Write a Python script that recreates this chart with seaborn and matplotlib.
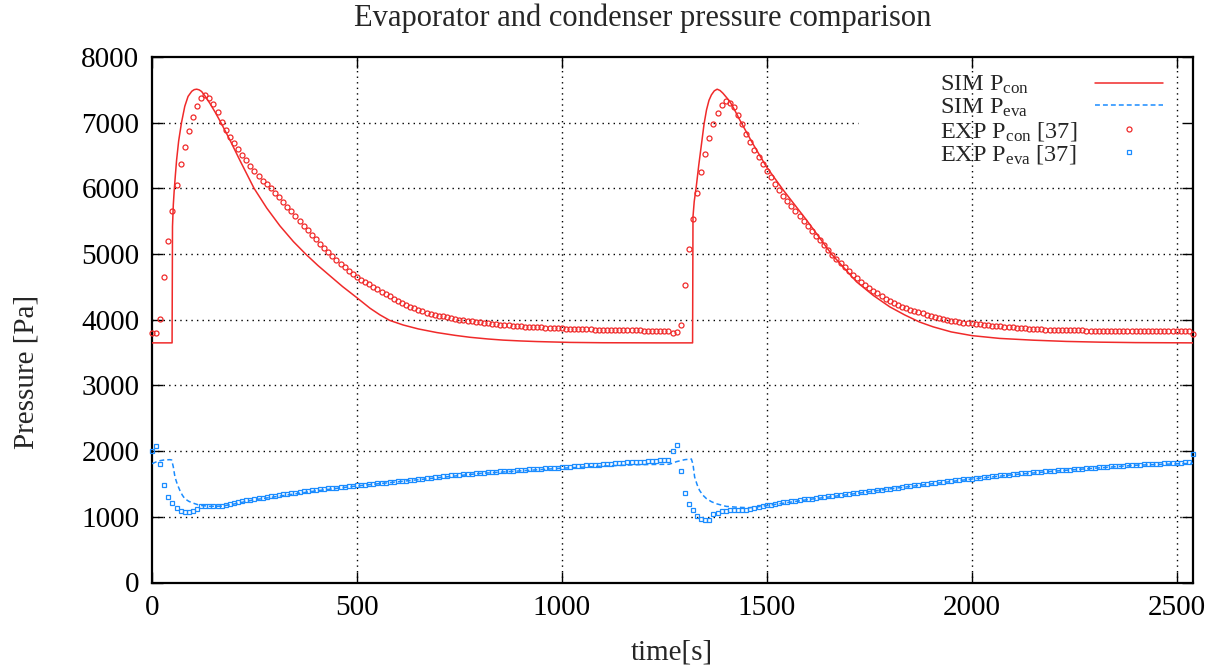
import matplotlib
matplotlib.use('Agg')
import matplotlib.pyplot as plt
import seaborn as sns
from matplotlib.lines import Line2D

# ---------------- data ----------------
TIME_EXP = list(range(0, 2550, 10))

EXP_PCON = [
    3791, 3800, 4009, 4649, 5198, 5655, 6047, 6367, 6631, 6875,   # 0
    7088, 7261, 7378, 7424, 7378, 7292, 7160, 7012, 6890, 6778,   # 100
    6687, 6596, 6509, 6428, 6341, 6260, 6189, 6118, 6062, 6001,   # 200
    5935, 5869, 5798, 5722, 5650, 5579, 5498, 5432, 5361, 5290,   # 300
    5224, 5158, 5091, 5030, 4970, 4908, 4852, 4797, 4746, 4690,   # 400
    4644, 4604, 4568, 4537, 4497, 4461, 4426, 4391, 4357, 4323,   # 500
    4290, 4258, 4228, 4200, 4175, 4152, 4130, 4110, 4092, 4077,   # 600
    4064, 4050, 4037, 4025, 4014, 4003, 3994, 3985, 3976, 3967,   # 700
    3960, 3952, 3945, 3938, 3931, 3925, 3918, 3913, 3908, 3904,   # 800
    3900, 3896, 3893, 3890, 3887, 3884, 3881, 3878, 3875, 3872,   # 900
    3869, 3866, 3862, 3860, 3858, 3856, 3854, 3852, 3850, 3848,   # 1000
    3846, 3845, 3844, 3843, 3842, 3841, 3840, 3839, 3838, 3837,   # 1100
    3836, 3835, 3834, 3833, 3832, 3831, 3830, 3801, 3816, 3913,   # 1200
    4533, 5076, 5534, 5930, 6245, 6519, 6763, 6982, 7154, 7276,   # 1300
    7327, 7307, 7236, 7119, 6977, 6829, 6702, 6580, 6474, 6372,   # 1400
    6270, 6174, 6072, 5976, 5889, 5808, 5732, 5655, 5574, 5508,   # 1500
    5432, 5356, 5279, 5208, 5137, 5061, 4990, 4924, 4858, 4802,   # 1600
    4741, 4685, 4629, 4573, 4522, 4482, 4441, 4400, 4360, 4319,   # 1700
    4284, 4253, 4228, 4197, 4177, 4156, 4136, 4116, 4097, 4078,   # 1800
    4058, 4040, 4024, 4010, 3997, 3985, 3975, 3966, 3958, 3951,   # 1900
    3944, 3937, 3930, 3923, 3916, 3910, 3904, 3898, 3893, 3888,   # 2000
    3883, 3878, 3873, 3868, 3863, 3858, 3855, 3853, 3851, 3849,   # 2100
    3847, 3845, 3843, 3841, 3840, 3839, 3838, 3837, 3836, 3835,   # 2200
    3834, 3833, 3833, 3832, 3832, 3831, 3831, 3830, 3830, 3830,   # 2300
    3829, 3829, 3829, 3829, 3828, 3828, 3828, 3828, 3827, 3827,   # 2400
    3827, 3827, 3826, 3826, 3790,                                 # 2500
]

EXP_PEVA = [
    1997, 2073, 1799, 1479, 1301, 1209, 1138, 1087, 1067, 1067,   # 0
    1087, 1113, 1159, 1159, 1159, 1164, 1164, 1169, 1174, 1194,   # 100
    1209, 1225, 1240, 1250, 1260, 1270, 1280, 1285, 1296, 1311,   # 200
    1316, 1331, 1341, 1347, 1357, 1367, 1377, 1387, 1392, 1402,   # 300
    1407, 1418, 1428, 1433, 1438, 1443, 1453, 1458, 1468, 1473,   # 400
    1479, 1484, 1490, 1496, 1502, 1508, 1514, 1520, 1526, 1532,   # 500
    1538, 1545, 1552, 1559, 1566, 1573, 1580, 1587, 1594, 1601,   # 600
    1608, 1616, 1624, 1631, 1638, 1644, 1649, 1654, 1659, 1664,   # 700
    1669, 1674, 1679, 1684, 1688, 1692, 1697, 1701, 1705, 1710,   # 800
    1714, 1718, 1722, 1726, 1730, 1734, 1738, 1742, 1746, 1750,   # 900
    1754, 1758, 1762, 1767, 1772, 1777, 1782, 1787, 1792, 1796,   # 1000
    1800, 1805, 1810, 1814, 1818, 1823, 1827, 1831, 1835, 1838,   # 1100
    1842, 1846, 1850, 1854, 1858, 1862, 1866, 1995, 2090, 1697,   # 1200
    1362, 1199, 1098, 1006, 960, 945, 950, 1041, 1062, 1082,      # 1300
    1092, 1098, 1098, 1098, 1103, 1108, 1118, 1133, 1148, 1164,   # 1400
    1174, 1184, 1199, 1209, 1220, 1230, 1240, 1245, 1255, 1265,   # 1500
    1270, 1275, 1280, 1301, 1306, 1311, 1316, 1326, 1334, 1342,   # 1600
    1350, 1358, 1366, 1374, 1382, 1390, 1398, 1406, 1414, 1422,   # 1700
    1430, 1438, 1446, 1454, 1462, 1470, 1478, 1486, 1494, 1501,   # 1800
    1508, 1516, 1524, 1532, 1540, 1548, 1555, 1562, 1569, 1576,   # 1900
    1583, 1590, 1597, 1604, 1611, 1618, 1625, 1631, 1637, 1643,   # 2000
    1649, 1655, 1661, 1667, 1673, 1679, 1684, 1689, 1694, 1698,   # 2100
    1702, 1706, 1710, 1714, 1718, 1722, 1727, 1732, 1737, 1742,   # 2200
    1747, 1752, 1757, 1762, 1766, 1770, 1775, 1779, 1783, 1787,   # 2300
    1791, 1794, 1797, 1800, 1803, 1806, 1809, 1812, 1815, 1818,   # 2400
    1821, 1824, 1827, 1830, 1962,                                 # 2500
]

SIM_CON_T = [0, 49, 50, 52, 54, 57, 60, 65, 72, 80, 88, 97, 103, 109, 115,
             121, 130, 141, 155, 168, 190, 215, 249, 280, 312, 345, 375,
             405, 434, 465, 499, 532, 556, 580, 613, 650, 695, 740, 776,
             820, 857, 900, 939, 1020, 1100, 1239, 1319,
             1320, 1323, 1328, 1334, 1341, 1347, 1353,
             1359, 1365, 1372, 1379, 1386, 1393, 1401, 1410, 1421, 1434,
             1466, 1499, 1540, 1597, 1658, 1719, 1760, 1800, 1837, 1873,
             1906, 1950, 2001, 2068, 2150, 2231, 2312, 2400, 2540]
SIM_CON_V = [3648, 3648, 5420, 5750, 5950, 6200, 6430, 6720, 7002, 7250,
             7400, 7478, 7503, 7510, 7500, 7475, 7400, 7297, 7150, 7002,
             6738, 6420, 6001, 5700, 5430, 5190, 5000, 4825, 4670, 4505,
             4340, 4175, 4075, 3990, 3920, 3860, 3805, 3762, 3733,
             3707, 3690, 3677, 3668, 3655, 3650, 3648, 3648,
             5569, 5800, 6027, 6350, 6687, 6980, 7195,
             7340, 7424, 7485, 7510, 7490, 7449, 7390, 7322, 7200, 7043,
             6680, 6331, 5976, 5518, 5000, 4578, 4370, 4197, 4072, 3965,
             3892, 3815, 3758, 3716, 3689, 3670, 3659, 3652, 3648]

SIM_EVA_T = [0, 10, 20, 30, 44, 48, 52, 56, 62, 68, 74, 80, 90, 100, 117,
             140, 170, 200, 250, 300, 400, 500, 650, 800, 1000, 1100, 1190,
             1262, 1280, 1300, 1316, 1320, 1324, 1330, 1336, 1344, 1353,
             1365, 1377, 1401, 1430, 1458, 1500, 1600, 1700, 1800, 1900,
             2000, 2100, 2200, 2300, 2400, 2540]
SIM_EVA_V = [1809, 1835, 1855, 1866, 1870, 1865, 1760, 1606, 1490, 1402,
             1330, 1276, 1235, 1209, 1174, 1160, 1162, 1195, 1260, 1305,
             1395, 1470, 1565, 1660, 1740, 1772, 1794, 1800, 1840, 1870,
             1880, 1800, 1606, 1490, 1402, 1330, 1276, 1230, 1199, 1159,
             1145, 1138, 1170, 1262, 1340, 1425, 1500, 1575, 1640, 1695,
             1740, 1785, 1815]

X_TICKS = [0, 500, 1000, 1500, 2000, 2500]
Y_TICKS = [0, 1000, 2000, 3000, 4000, 5000, 6000, 7000, 8000]

TITLE = 'Evaporator and condenser pressure comparison'
XLABEL = 'time[s]'
YLABEL = 'Pressure [Pa]'
LABELS = [r'SIM P$_{\mathrm{con}}$', r'SIM P$_{\mathrm{eva}}$',
          r'EXP P$_{\mathrm{con}}$ [37]', r'EXP P$_{\mathrm{eva}}$ [37]']

RED = '#f02a2a'
BLUE = '#1a8cff'
DASH = (0, (3.2, 2.0))

# ---------------- style ----------------
sns.set_style('ticks')
plt.rcParams['font.family'] = ['Liberation Serif', 'DejaVu Serif']
plt.rcParams['mathtext.fontset'] = 'custom'
plt.rcParams['mathtext.rm'] = 'Liberation Serif'
plt.rcParams['mathtext.it'] = 'Liberation Serif:italic'
plt.rcParams['mathtext.bf'] = 'Liberation Serif:bold'

W, H = 1219, 668
fig = plt.figure(figsize=(W / 100, H / 100), dpi=100)
L, R, T, B = 152, 1193, 57, 582.5
ax = fig.add_axes([L / W, 1 - B / H, (R - L) / W, (B - T) / H])

# grid
GRID_KW = dict(color='black', linestyle=(0, (1, 3)), linewidth=1.0, zorder=0.5)
for xv in X_TICKS[1:]:
    ax.axvline(xv, **GRID_KW)
for yv in Y_TICKS[1:-1]:
    xmax = 0.678 if yv == 7000 else 1.0
    ax.axhline(yv, xmin=0, xmax=xmax, **GRID_KW)

# data
sns.lineplot(x=SIM_CON_T, y=SIM_CON_V, sort=False, estimator=None,
             color=RED, linewidth=1.1, ax=ax, zorder=3)
sns.lineplot(x=SIM_EVA_T, y=SIM_EVA_V, sort=False, estimator=None,
             color=BLUE, linewidth=1.1, linestyle=DASH, ax=ax, zorder=3)
sns.lineplot(x=TIME_EXP, y=EXP_PCON, sort=False, estimator=None,
             linestyle='none', marker='o', markersize=3.6,
             markerfacecolor='none', markeredgecolor=RED,
             markeredgewidth=0.9, ax=ax, zorder=4, clip_on=False)
sns.lineplot(x=TIME_EXP, y=EXP_PEVA, sort=False, estimator=None,
             linestyle='none', marker='s', markersize=3.5,
             markerfacecolor='none', markeredgecolor=BLUE,
             markeredgewidth=0.9, ax=ax, zorder=4, clip_on=False)

ax.set_xlim(0, 2540)
ax.set_ylim(0, 8000)
ax.set_xticks(X_TICKS)
ax.set_yticks(Y_TICKS)
ax.tick_params(direction='in', length=8, width=1.0, top=True, right=True,
               labelsize=21, pad=9, colors='black')
for sp in ax.spines.values():
    sp.set_linewidth(1.6)
    sp.set_color('black')
ax.set_xlabel('')
ax.set_ylabel('')

fig.text(643 / W, 1 - 18 / H, TITLE, ha='center', va='center', fontsize=22)
fig.text(672 / W, 1 - 652 / H, XLABEL, ha='center', va='center', fontsize=21)
fig.text(27 / W, 1 - 372 / H, YLABEL, ha='center', va='center', fontsize=21,
         rotation=90)

handles = [
    Line2D([], [], color=RED, linewidth=1.1),
    Line2D([], [], color=BLUE, linewidth=1.1, linestyle=DASH),
    Line2D([], [], color=RED, linestyle='none', marker='o', markersize=3.6,
           markerfacecolor='none', markeredgewidth=0.9),
    Line2D([], [], color=BLUE, linestyle='none', marker='s', markersize=3.5,
           markerfacecolor='none', markeredgewidth=0.9),
]
LEG_FS = 17.5
leg = ax.legend(handles, LABELS, loc='upper right',
                bbox_to_anchor=((1163 - L) / (R - L), (B - 74) / (B - T)),
                frameon=False, markerfirst=False, fontsize=LEG_FS,
                handlelength=2.8, handletextpad=0.9, labelspacing=0.02,
                borderpad=0, borderaxespad=0)
# gnuplot-style key: labels left-justified in a column, samples on the right
fig.canvas.draw()
renderer = fig.canvas.get_renderer()
for txt, lab in zip(leg.get_texts(), LABELS):
    bb = txt.get_window_extent(renderer)
    txt.set_alpha(0)
    fig.text(940 / W, bb.y0 / H, lab, ha='left', va='bottom', fontsize=LEG_FS)

fig.savefig('out.png', dpi=100)
